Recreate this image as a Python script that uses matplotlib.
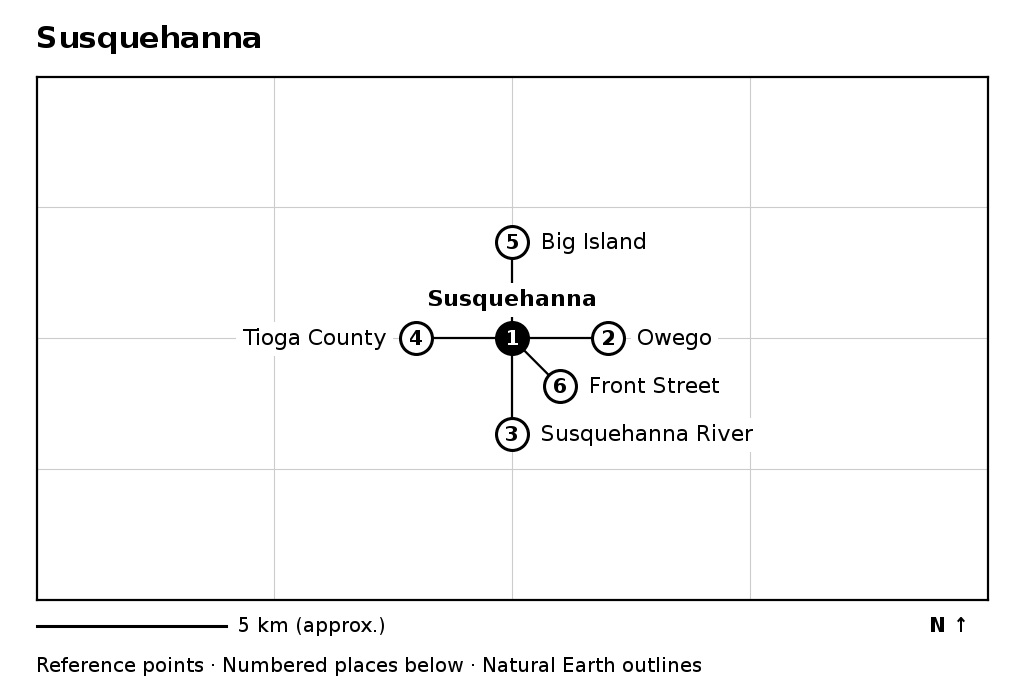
import matplotlib
matplotlib.use("Agg")
from matplotlib import pyplot as plt
from matplotlib.lines import Line2D

plt.rcParams["text.hinting"] = "native"
plt.rcParams["text.hinting_factor"] = 1

TITLE = "Susquehanna"
PLACE_NUMBERS = ["1", "2", "3", "4", "5", "6"]
PLACE_NAMES = ["", "Owego", "Susquehanna River", "Tioga County", "Big Island", "Front Street"]
# map position in km east / north of the centre
PLACE_X = [0.0, 2.53, 0.0, -2.53, 0.0, 1.26]
PLACE_Y = [0.0, 0.0, -2.5, 0.0, 2.5, -1.25]
GRID_X = [-6.26, 0.0, 6.26]
GRID_Y = [-3.41, 0.0, 3.41]
X_LIMITS = (-12.5, 12.53)
Y_LIMITS = (-6.82, 6.80)

W, H = 1024, 692
fig = plt.figure(figsize=(W / 100, H / 100), dpi=100)
fig.patch.set_facecolor("white")
ax = fig.add_axes([37 / W, 1 - 600 / H, 951 / W, 523 / H])
ax.set_xlim(*X_LIMITS)
ax.set_ylim(*Y_LIMITS)
ax.set_xticks(GRID_X)
ax.set_yticks(GRID_Y)
ax.tick_params(length=0, labelbottom=False, labelleft=False)
ax.grid(True, color="#cccccc", linewidth=0.8)
ax.set_axisbelow(True)
for spine in ax.spines.values():
    spine.set_linewidth(1.6)

# spokes from the centre point
for x, y in zip(PLACE_X[1:], PLACE_Y[1:]):
    ax.plot([PLACE_X[0], x], [PLACE_Y[0], y], color="black", lw=1.6, zorder=2)

box = dict(facecolor="white", edgecolor="none", pad=4.5)
for i, (x, y, num, name) in enumerate(zip(PLACE_X, PLACE_Y, PLACE_NUMBERS, PLACE_NAMES)):
    centre = i == 0
    ax.plot(x, y, "o", ms=23, mfc="black" if centre else "white", mec="black", mew=2.2, zorder=4)
    ax.annotate(num, (x, y), xytext=(0, -0.7), textcoords="offset points",
                color="white" if centre else "black", fontsize=14.4, fontweight="bold",
                ha="center", va="center", zorder=5)
    if not name:
        continue
    if x < 0:
        ax.annotate(name, (x, y), xytext=(-21, -0.7), textcoords="offset points", ha="right",
                    va="center", fontsize=16, bbox=box, zorder=3)
    else:
        ax.annotate(name, (x, y), xytext=(21, -0.7), textcoords="offset points", ha="left",
                    va="center", fontsize=16, bbox=box, zorder=3)

ax.annotate(TITLE, (0, 0), xytext=(0, 27.3), textcoords="offset points", ha="center",
            va="center", fontsize=15.84, fontweight="bold", bbox=box, zorder=3)

fig.text(36 / W, 1 - 39 / H, TITLE, fontsize=21.8, fontweight="bold", va="center")
fig.add_artist(Line2D([37 / W, 226 / W], [1 - 626 / H] * 2, color="black", lw=2.2))
fig.text(238 / W, 1 - 626 / H, "5 km (approx.)", fontsize=14.4, va="center")
fig.text(970 / W, 1 - 626 / H, "N ↑", fontsize=14.4, fontweight="bold", va="center", ha="right")
fig.text(36 / W, 1 - 666 / H, "Reference points · Numbered places below · Natural Earth outlines",
         fontsize=14.4, va="center")

fig.savefig("out.png", dpi=100)
